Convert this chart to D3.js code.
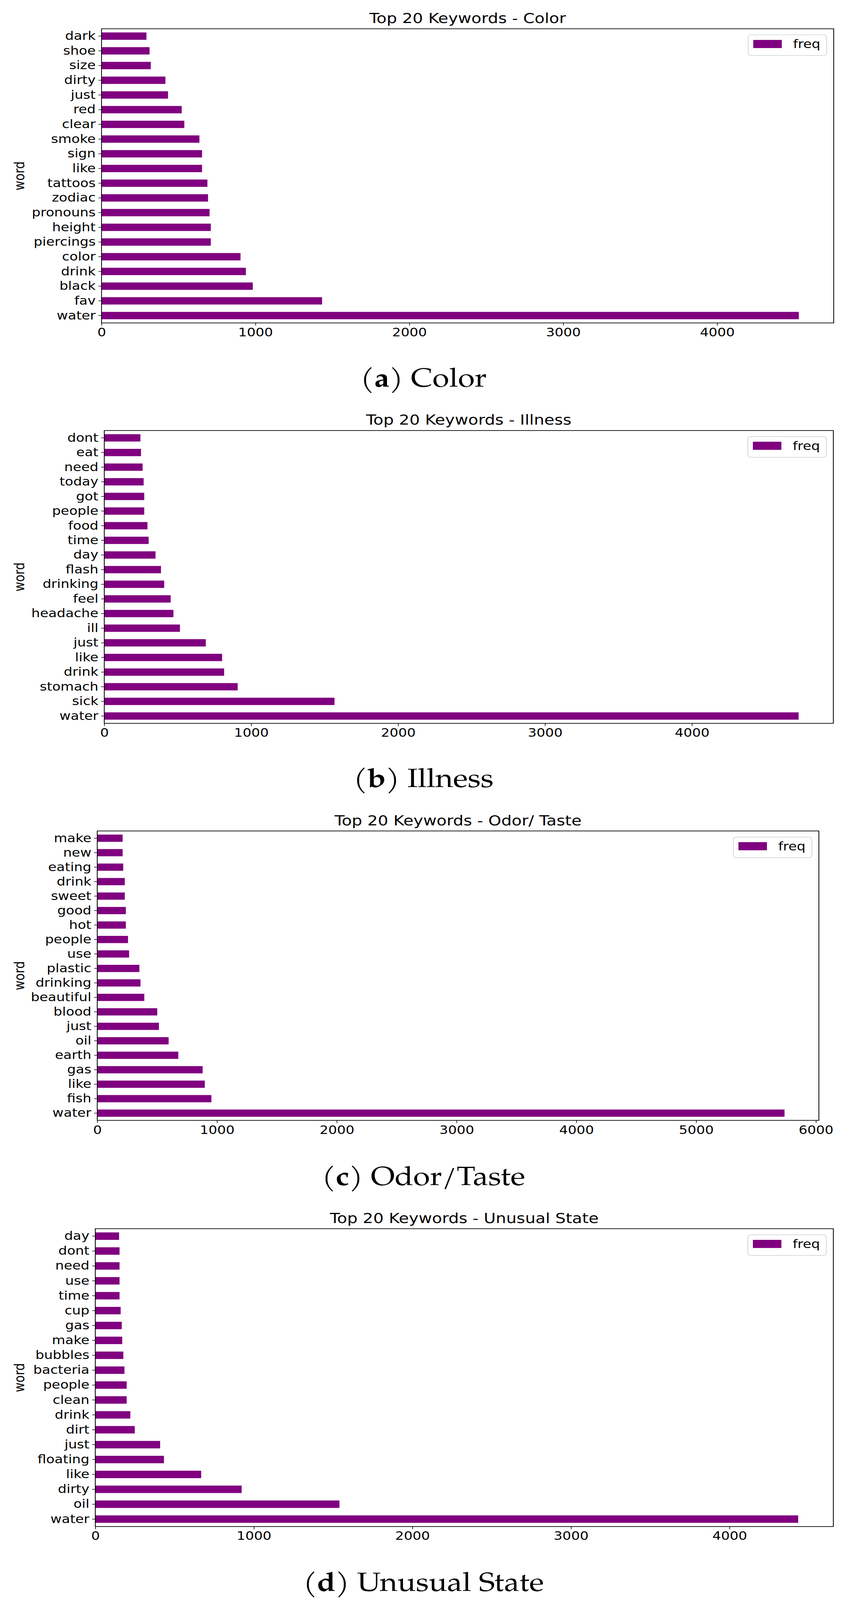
<!DOCTYPE html>
<html>
<head>
<meta charset="utf-8">
<script src="https://cdn.jsdelivr.net/npm/d3@7"></script>
<style>
    html, body { margin: 0; padding: 0; background: #fff; overflow: hidden; }
    svg { display: block; }
    .tick text { font-family: "DejaVu Sans", sans-serif; font-size: 35px; fill: #000; }
    .title { font-family: "DejaVu Sans", sans-serif; font-size: 42px; fill: #000; }
    .axis-label { font-family: "DejaVu Sans", sans-serif; font-size: 35px; fill: #000; }
    .caption { font-family: "TeX Gyre Pagella", "Palatino Linotype", Palatino, "Liberation Serif", serif; font-size: 78px; fill: #000; }
</style>
</head>
<body>
<svg id="chart"></svg>
<script>
// data, highest frequency first
const colorWords = ["water", "fav", "black", "drink", "color", "piercings", "height", "pronouns", "zodiac", "tattoos",
    "like", "sign", "smoke", "clear", "red", "just", "dirty", "size", "shoe", "dark"];
const colorFreq = [4531, 1433, 983, 938, 903, 710, 710, 702, 692, 688,
    653, 653, 636, 538, 521, 432, 415, 320, 312, 292];

const illnessWords = ["water", "sick", "stomach", "drink", "like", "just", "ill", "headache", "feel", "drinking",
    "flash", "day", "time", "food", "people", "got", "today", "need", "eat", "dont"];
const illnessFreq = [4726, 1567, 908, 816, 802, 691, 515, 471, 452, 408,
    386, 349, 302, 294, 272, 272, 268, 261, 250, 246];

const odorWords = ["water", "fish", "like", "gas", "earth", "oil", "just", "blood", "beautiful", "drinking",
    "plastic", "use", "people", "hot", "good", "sweet", "drink", "eating", "new", "make"];
const odorFreq = [5738, 953, 898, 880, 677, 596, 515, 501, 393, 361,
    352, 266, 257, 239, 239, 230, 230, 217, 212, 212];

const stateWords = ["water", "oil", "dirty", "like", "floating", "just", "dirt", "drink", "clean", "people",
    "bacteria", "bubbles", "make", "gas", "cup", "time", "use", "need", "dont", "day"];
const stateFreq = [4433, 1540, 923, 668, 433, 409, 249, 221, 198, 198,
    184, 177, 170, 167, 160, 153, 153, 153, 153, 150];

const titles = ["Top 20 Keywords - Color", "Top 20 Keywords - Illness",
    "Top 20 Keywords - Odor/ Taste", "Top 20 Keywords - Unusual State"];
const captionLetters = ["a", "b", "c", "d"];
const captionNames = ["Color", "Illness", "Odor/Taste", "Unusual State"];

// layout of each panel (plot box in page pixels)
const W = 2169, H = 4727;
const boxes = [
    { left: 260, right: 2135, top: 85, bottom: 954, caption: 1143 },
    { left: 267, right: 2134, top: 1272, bottom: 2137, caption: 2325 },
    { left: 249, right: 2097, top: 2455, bottom: 3310, caption: 3501 },
    { left: 244, right: 2134, top: 3630, bottom: 4510, caption: 4700 }
];
const panels = [
    [colorWords, colorFreq],
    [illnessWords, illnessFreq],
    [odorWords, odorFreq],
    [stateWords, stateFreq]
];

// the browser caps the viewport height, so fit the drawing into what we get
const vw = window.innerWidth || W, vh = window.innerHeight || H;
const svg = d3.select("#chart")
    .attr("width", vw)
    .attr("height", vh)
    .attr("viewBox", `0 0 ${W} ${H}`)
    .attr("preserveAspectRatio", "none");

panels.forEach(([words, freq], i) => {
    const b = boxes[i];
    const g = svg.append("g");
    const rows = words.map((w, j) => ({ word: w, freq: freq[j] }));

    // x: matplotlib style 5% margin on the right
    const x = d3.scaleLinear()
        .domain([0, d3.max(freq) * 1.05])
        .range([b.left, b.right]);

    // y: first item at the bottom, bars half the step
    const y = d3.scaleBand()
        .domain(words.slice().reverse())
        .range([b.top, b.bottom])
        .paddingInner(0.5)
        .paddingOuter(0.25);

    g.selectAll("rect.bar")
        .data(rows)
        .join("rect")
        .attr("class", "bar")
        .attr("x", x(0))
        .attr("y", d => y(d.word))
        .attr("width", d => x(d.freq) - x(0))
        .attr("height", y.bandwidth())
        .attr("fill", "purple");

    // axes
    const xAxis = g.append("g")
        .attr("transform", `translate(0,${b.bottom})`)
        .call(d3.axisBottom(x).ticks(5).tickFormat(d3.format("d")).tickSizeOuter(0).tickSize(8).tickPadding(7));
    xAxis.select(".domain").remove();
    xAxis.selectAll(".tick line").attr("stroke-width", 1.6);

    const yAxis = g.append("g")
        .attr("transform", `translate(${b.left},0)`)
        .call(d3.axisLeft(y).tickSizeOuter(0).tickSize(8).tickPadding(7));
    yAxis.select(".domain").remove();
    yAxis.selectAll(".tick line").attr("stroke-width", 1.6);

    // frame
    g.append("rect")
        .attr("x", b.left)
        .attr("y", b.top)
        .attr("width", b.right - b.left)
        .attr("height", b.bottom - b.top)
        .attr("fill", "none")
        .attr("stroke", "#000")
        .attr("stroke-width", 2);

    // title
    g.append("text")
        .attr("class", "title")
        .attr("x", (b.left + b.right) / 2)
        .attr("y", b.top - 17)
        .attr("text-anchor", "middle")
        .text(titles[i]);

    // y label
    const ly = (b.top + b.bottom) / 2;
    g.append("text")
        .attr("class", "axis-label")
        .attr("transform", `translate(62,${ly}) rotate(-90)`)
        .attr("text-anchor", "middle")
        .text("word");

    // legend
    const legend = g.append("g")
        .attr("transform", `translate(${b.right - 18 - 201},${b.top + 18})`);
    legend.append("rect")
        .attr("width", 201)
        .attr("height", 61)
        .attr("rx", 7)
        .attr("fill", "#fff")
        .attr("fill-opacity", 0.8)
        .attr("stroke", "#d6d6d6")
        .attr("stroke-width", 2);
    legend.append("rect")
        .attr("x", 13)
        .attr("y", 15)
        .attr("width", 73)
        .attr("height", 24)
        .attr("fill", "purple");
    legend.append("text")
        .attr("class", "axis-label")
        .attr("x", 115)
        .attr("y", 39)
        .text("freq");

    // caption under the panel
    const cap = svg.append("text")
        .attr("class", "caption")
        .attr("x", W / 2)
        .attr("y", b.caption)
        .attr("text-anchor", "middle");
    cap.append("tspan").text("(");
    cap.append("tspan").attr("font-weight", "bold").text(captionLetters[i]);
    cap.append("tspan").text(") " + captionNames[i]);
});
</script>
</body>
</html>
